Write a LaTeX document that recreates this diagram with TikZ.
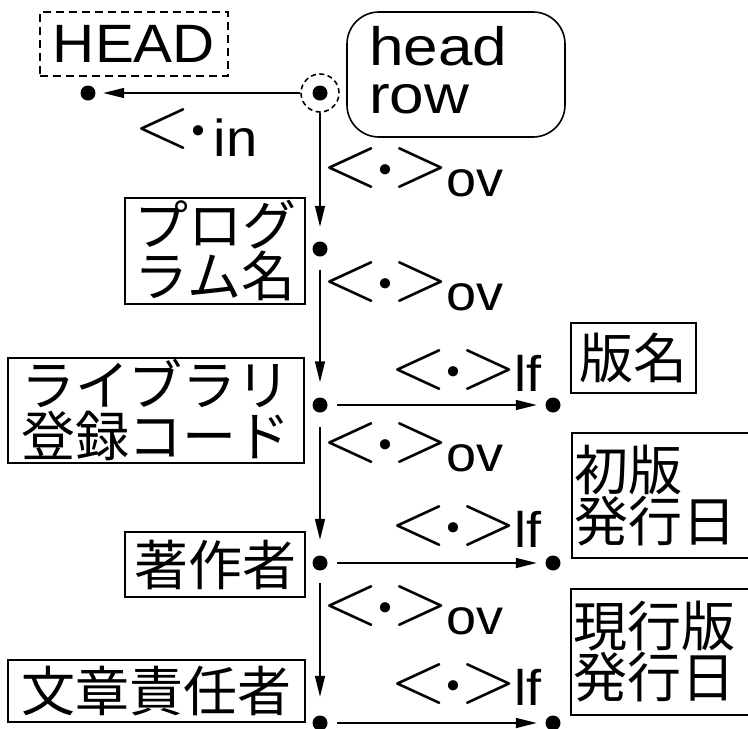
\documentclass[tikz,border=0pt]{standalone}
\usepackage{fontspec}
\newfontfamily\sans{Liberation Sans}[FakeStretch=1.08]
\newfontfamily\sansw{Liberation Sans}[FakeStretch=1.15]
\newfontfamily\jp{Noto Sans CJK JP}
\usetikzlibrary{arrows.meta}
\setlength\lineskiplimit{-100pt}
% glyphs centred on the current point
\newcommand\cpt[1]{\makebox[0pt][c]{#1}}
\newcommand\lt{\cpt{\fontsize{74}{74}\selectfont<}}
\newcommand\gt{\cpt{\fontsize{74}{74}\selectfont>}}
\newcommand\md{\cpt{\fontsize{125}{125}\selectfont\raisebox{-26pt}[0pt][0pt]{·}}}
\newcommand\chev[3]{\lt\kern35pt\md\kern35pt\gt\kern#3\raisebox{-#2}{\sans\fontsize{50}{50}\selectfont #1}}
\newcommand\inlab{\lt\kern35.5pt\md\kern15.5pt\raisebox{-9pt}{\sans\fontsize{52}{52}\selectfont in}}
\tikzset{
 dotn/.style={circle, fill=black, inner sep=0pt, minimum size=15pt},
 ring/.style={circle, draw, dash pattern=on 5pt off 3.5pt, line width=1.6pt, inner sep=0pt, minimum size=38pt},
 box/.style={draw, line width=1.6pt, inner sep=0pt, align=center, font=\jp\fontsize{54}{51}\selectfont},
 link/.style={line width=1.6pt, -{Triangle[length=21pt,width=10pt]}},
 lab/.style={inner sep=0pt, anchor=base west},
}
\begin{document}
\begin{tikzpicture}[x=1pt,y=-1pt]
\useasboundingbox (0,0) rectangle (748,729);
\clip (0,0) rectangle (748,729);
% header
\node[draw, dash pattern=on 8pt off 5pt, line width=1.6pt, minimum width=188pt, minimum height=64pt, inner sep=0pt, font=\sans\fontsize{54}{54}\selectfont] (HEAD) at (134,44) {HEAD};
\node[draw, line width=1.6pt, rounded corners=32pt, minimum width=218pt, minimum height=125pt, align=left, text width=174pt, inner xsep=22pt, inner ysep=0pt, font=\sansw\fontsize{54}{48}\selectfont] (hr) at (456,74.5) {head\\row\rule[-10pt]{0pt}{10pt}};
% dots
\node[dotn] (hd) at (320,93) {};
\node[ring] (hc) at (320,93) {};
\node[dotn] (Hd) at (88,93) {};
\node[dotn] (d1) at (320,249) {};
\node[dotn] (d2) at (320,405) {};
\node[dotn] (d3) at (320,563) {};
\node[dotn] (d4) at (320,723) {};
\node[dotn] (r2) at (553,405) {};
\node[dotn] (r3) at (553,563) {};
\node[dotn] (r4) at (553,723) {};
% boxes
\node[box, minimum width=180pt, minimum height=106pt] (prog) at (215,251) {プログ\\ラム名};
\node[box, minimum width=296pt, minimum height=105pt] (lib) at (156,410.5) {ライブラリ\\登録コード};
\node[box, minimum width=180pt, minimum height=65pt] (auth) at (215,564.5) {著作者};
\node[box, minimum width=297pt, minimum height=62pt] (resp) at (156.5,691) {文章責任者};
\node[box, minimum width=125pt, minimum height=70pt] (ed) at (633.5,358) {版名};
\node[box, minimum height=125pt, align=left, text width=186pt, inner xsep=2pt] (first) at (667,495.5) {初版\\発行日};
\node[box, minimum height=126pt, align=left, text width=186pt, inner xsep=2pt] (cur) at (666,652) {現行版\\発行日};
% connectors
\draw[link, shorten >=7.5pt] (hc) -- (Hd);
\draw[link, shorten >=14.5pt] (hc) -- (d1);
\draw[link, shorten <=13pt, shorten >=15pt] (d1) -- (d2);
\draw[link, shorten <=14.5pt, shorten >=15.5pt] (d2) -- (d3);
\draw[link, shorten <=12.5pt, shorten >=18.5pt] (d3) -- (d4);
\draw[link, shorten <=9.5pt, shorten >=8.5pt] (d2) -- (r2);
\draw[link, shorten <=9.5pt, shorten >=8.5pt] (d3) -- (r3);
\draw[link, shorten <=9.5pt, shorten >=8.5pt] (d4) -- (r4);
% labels (anchored at the centre of '<' on its baseline)
\node[lab] (lin) at (162.5,147) {\inlab};
\node[lab] (ov1) at (350.5,186) {\chev{ov}{10pt}{25.5pt}};
\node[lab] (ov2) at (350.5,300) {\chev{ov}{10pt}{25.5pt}};
\node[lab] (ov3) at (350.5,461) {\chev{ov}{10pt}{25.5pt}};
\node[lab] (ov4) at (350.5,624) {\chev{ov}{10pt}{25.5pt}};
\node[lab] (lf1) at (418.5,388) {\chev{lf}{3pt}{26pt}};
\node[lab] (lf2) at (418.5,544) {\chev{lf}{3pt}{26pt}};
\node[lab] (lf3) at (418.5,702) {\chev{lf}{3pt}{26pt}};
\end{tikzpicture}
\end{document}
